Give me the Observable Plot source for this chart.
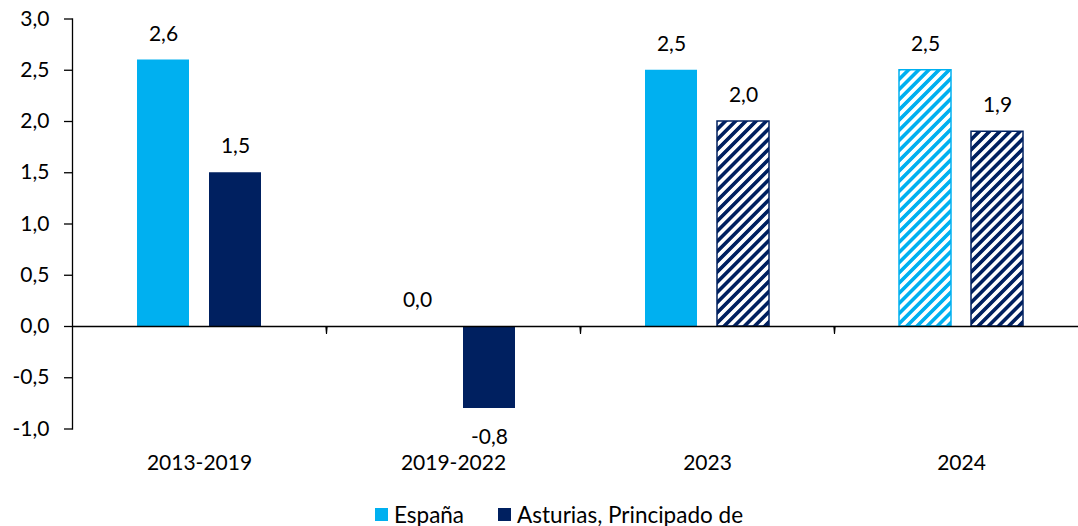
<!DOCTYPE html>
<html><head><meta charset="utf-8">
<script src="https://cdn.jsdelivr.net/npm/d3@7"></script>
<script src="https://cdn.jsdelivr.net/npm/@observablehq/plot@0.6"></script>
<style>
html,body{margin:0;padding:0;background:#fff;overflow:hidden;}
body{font-family:Lato,sans-serif;color:#000;}
#legend{padding-top:20px;padding-left:40px;text-align:center;font-size:22.5px;line-height:26px;height:26px;white-space:nowrap;}
#legend .item{display:inline-flex;align-items:center;}
#legend .item + .item{margin-left:34px;}
#legend .sw{display:inline-block;width:13px;height:13px;margin-right:6px;}
</style></head><body>
<div id="chart"></div>
<div id="legend"></div>
<script>
const categories = ["2013-2019", "2019-2022", "2023", "2024"];
const series = ["España", "Asturias, Principado de"];
const espana = [2.6, 0.0, 2.5, 2.5];
const asturias = [1.5, -0.8, 2.0, 1.9];
const hatchedEspana = [false, false, false, true];
const hatchedAsturias = [false, false, true, true];
const seriesColors = ["#00B0F0", "#002060"];
const yTicks = [-1, -0.5, 0, 0.5, 1, 1.5, 2, 2.5, 3];

const rows = [];
categories.forEach((c, i) => {
  rows.push({cat: c, serie: series[0], value: espana[i], hatched: hatchedEspana[i]});
  rows.push({cat: c, serie: series[1], value: asturias[i], hatched: hatchedAsturias[i]});
});
const fmt = v => v.toFixed(1).replace(".", ",");

const chart = Plot.plot({
  width: 1078,
  height: 480,
  marginLeft: 72,
  marginRight: -10,
  marginTop: 18.5,
  marginBottom: 51.5,
  fx: {domain: categories, padding: 0, label: null},
  x: {domain: series, paddingInner: 0.278, paddingOuter: 0.9, axis: null},
  y: {domain: [-1, 3], axis: null},
  color: {domain: series, range: seriesColors},
  style: {fontFamily: "Lato, sans-serif", fontSize: "21px", color: "#000", background: "#fff"},
  marks: [
    Plot.barY(rows.filter(d => !d.hatched), {fx: "cat", x: "serie", y: "value", fill: "serie"}),
    Plot.barY(rows.filter(d => d.hatched && d.serie === series[0]), {fx: "cat", x: "serie", y: "value", fill: "url(#hatch-es)", stroke: seriesColors[0], strokeWidth: 1.5}),
    Plot.barY(rows.filter(d => d.hatched && d.serie === series[1]), {fx: "cat", x: "serie", y: "value", fill: "url(#hatch-as)", stroke: seriesColors[1], strokeWidth: 1.5}),
    Plot.ruleY([0], {stroke: "#000", strokeWidth: 1.3}),
    Plot.vector(categories.slice(1).map(c => ({cat: c})), {fx: "cat", y: () => 0, frameAnchor: "left", length: 7, rotate: 180, anchor: "start", shape: "spike", r: 0.6, stroke: "#000", fill: "#000", strokeWidth: 1.2}),
    Plot.frame({anchor: "left", facetAnchor: "left", stroke: "#000", strokeWidth: 1.3}),
    Plot.axisY({ticks: yTicks, tickFormat: fmt, tickSize: 8, tickPadding: 15, fontSize: 21, label: null, strokeWidth: 1.3}),
    Plot.axisFx({anchor: "bottom", tickSize: 0, tickPadding: 26, fontSize: 21, label: null}),
    Plot.text(rows.filter(d => d.value >= 0), {fx: "cat", x: "serie", y: "value", text: d => fmt(d.value), dy: -26, lineAnchor: "middle", fontSize: 21, fill: "#000"}),
    Plot.text(rows.filter(d => d.value < 0), {fx: "cat", x: "serie", y: "value", text: d => fmt(d.value), dy: 29, lineAnchor: "middle", fontSize: 21, fill: "#000"})
  ]
});

const svgEl = chart.tagName.toLowerCase() === "svg" ? chart : chart.querySelector("svg");
const defs = d3.select(svgEl).insert("defs", ":first-child");
function addHatch(id, color) {
  const p = defs.append("pattern").attr("id", id).attr("patternUnits", "userSpaceOnUse")
    .attr("width", 7.2).attr("height", 7.2).attr("patternTransform", "rotate(45)");
  p.append("rect").attr("width", 7.2).attr("height", 7.2).attr("fill", "#fff");
  p.append("rect").attr("width", 3.6).attr("height", 7.2).attr("fill", color);
}
addHatch("hatch-es", seriesColors[0]);
addHatch("hatch-as", seriesColors[1]);
document.getElementById("chart").appendChild(chart);

const legend = d3.select("#legend");
series.forEach((s, i) => {
  const it = legend.append("span").attr("class", "item");
  it.append("span").attr("class", "sw").style("background", seriesColors[i]);
  it.append("span").text(s);
});
</script>
</body></html>
